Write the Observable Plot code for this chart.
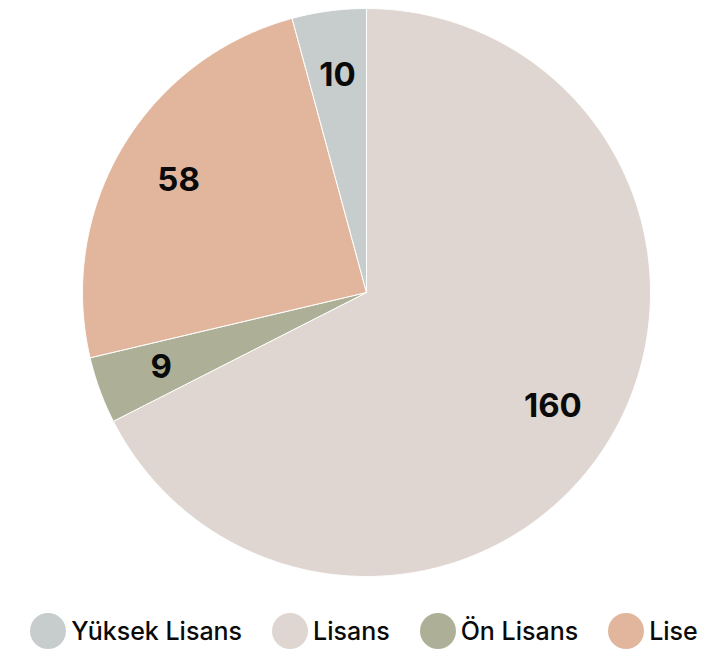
<!DOCTYPE html>
<html>
<head>
<meta charset="utf-8">
<script src="https://cdn.jsdelivr.net/npm/d3@7"></script>
<script src="https://cdn.jsdelivr.net/npm/@observablehq/plot@0.6"></script>
<style>
  html, body { margin: 0; padding: 0; background: #fff; }
  body { width: 722px; font-family: Inter, "Open Sans", sans-serif; }
  #legend { display: flex; justify-content: center; align-items: center; margin-top: 23px; padding-left: 6px; height: 36px; }
  .item { display: flex; align-items: center; font-size: 25px; font-weight: 500; color: #0a0a0a; margin-right: 30px; }
  .item:last-child { margin-right: 0; }
  .sw { width: 36px; height: 36px; border-radius: 50%; display: inline-block; margin-right: 5px; }
</style>
</head>
<body>
<div id="chart"></div>
<div id="legend"></div>
<script>
const categories = ["Yüksek Lisans", "Lisans", "Ön Lisans", "Lise"];
const values = [10, 160, 9, 58];
const colors = ["#c7cdcd", "#e0d6d1", "#adb097", "#e1b69c"];
// slices are drawn clockwise from 12 o'clock in this order
const drawOrder = ["Lisans", "Ön Lisans", "Lise", "Yüksek Lisans"];

const W = 722, H = 590, cx = 366, cy = 292, R = 284;

const items = drawOrder.map(c => ({cat: c, value: values[categories.indexOf(c)]}));
const arcs = d3.pie().sort(null).value(d => d.value)(items);

const pts = [];
const labels = [];
for (const a of arcs) {
  const cat = a.data.cat;
  pts.push({cat, x: 0, y: 0});
  const n = Math.max(2, Math.ceil((a.endAngle - a.startAngle) / (Math.PI / 360)));
  for (let i = 0; i <= n; i++) {
    const t = a.startAngle + (a.endAngle - a.startAngle) * i / n;
    pts.push({cat, x: Math.sin(t), y: Math.cos(t)});
  }
  pts.push({cat, x: 0, y: 0});
  const mid = (a.startAngle + a.endAngle) / 2;
  const k = 0.77;
  labels.push({cat, value: a.data.value, x: k * Math.sin(mid), y: k * Math.cos(mid)});
}

const chart = Plot.plot({
  width: W,
  height: H,
  margin: 0,
  x: {domain: [-cx / R, (W - cx) / R], axis: null},
  y: {domain: [-(H - cy) / R, cy / R], axis: null},
  color: {domain: categories, range: colors},
  marks: [
    Plot.line(pts, {x: "x", y: "y", z: "cat", fill: "cat", stroke: "#ffffff", strokeWidth: 1, curve: "linear-closed"}),
    Plot.text(labels, {x: "x", y: "y", text: d => String(d.value), fontSize: 33, fontWeight: 700, fill: "#0a0a0a", fontFamily: "Inter"})
  ],
  style: {background: "#fff", fontFamily: "Inter"}
});
document.getElementById("chart").appendChild(chart);

const legend = document.getElementById("legend");
categories.forEach((c, i) => {
  const it = document.createElement("div");
  it.className = "item";
  const sw = document.createElement("span");
  sw.className = "sw";
  sw.style.background = colors[i];
  const tx = document.createElement("span");
  tx.textContent = c;
  it.appendChild(sw);
  it.appendChild(tx);
  legend.appendChild(it);
});
</script>
</body>
</html>
